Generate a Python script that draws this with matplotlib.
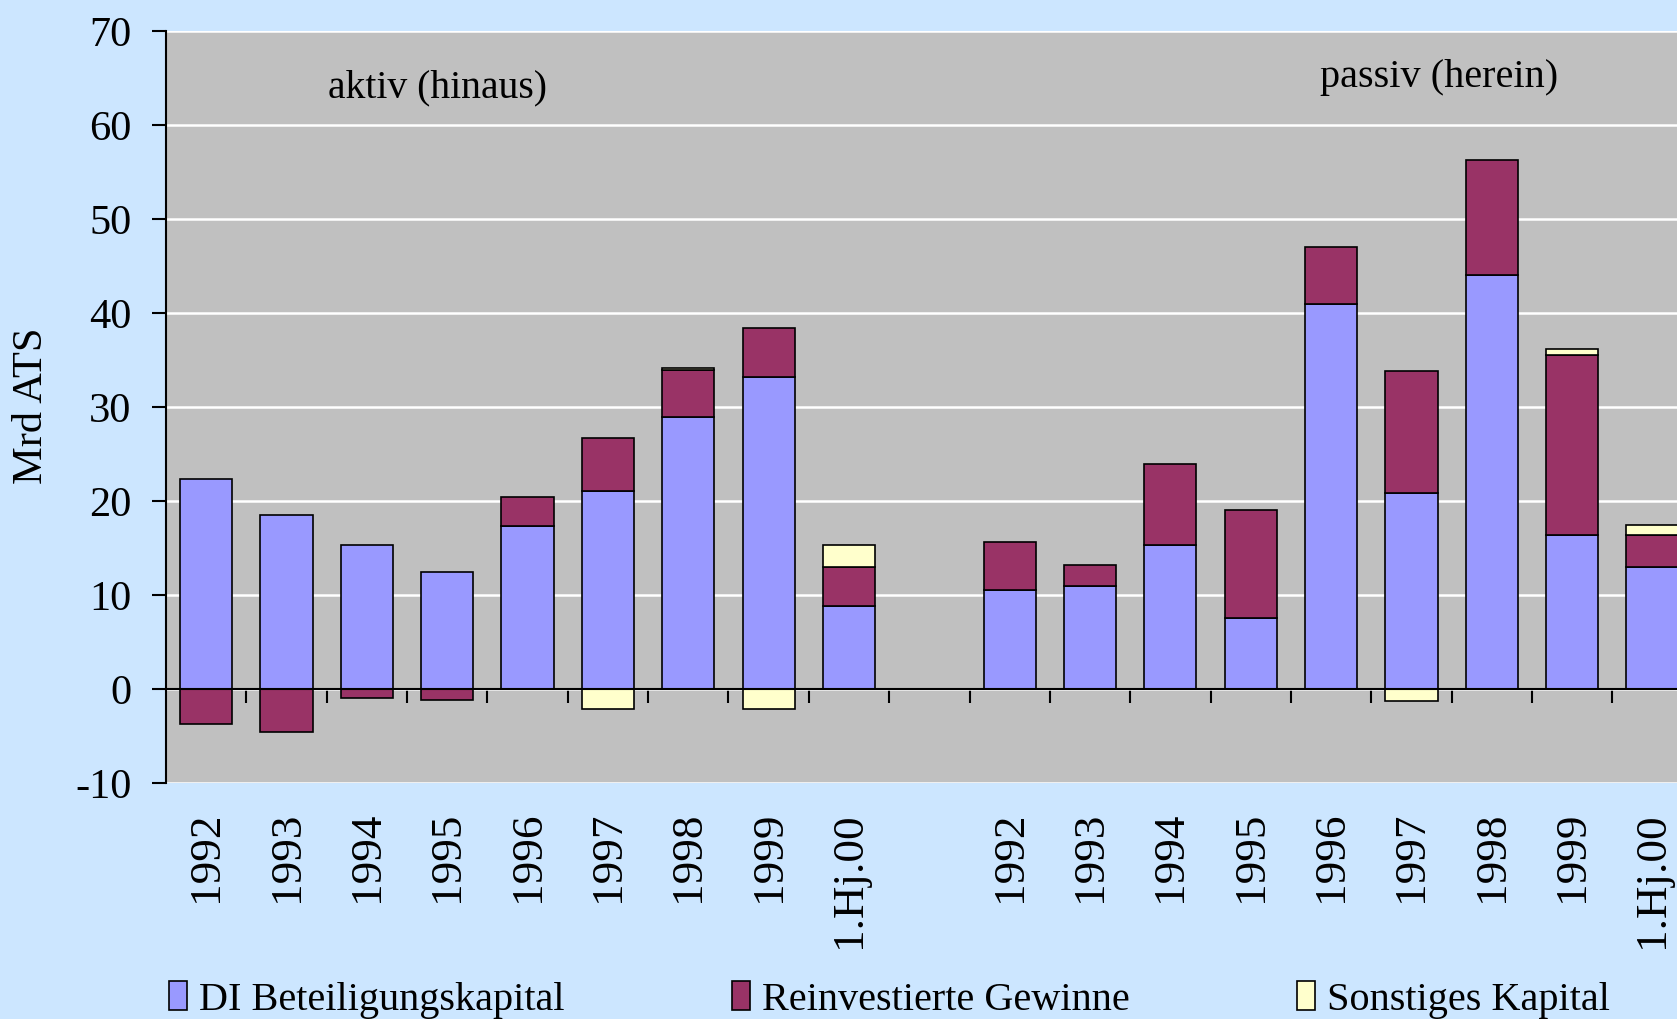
import numpy as np
import matplotlib
matplotlib.use("Agg")
import matplotlib.pyplot as plt
from matplotlib.patches import Patch
import matplotlib.transforms as mtransforms

plt.rcParams['font.family'] = ['Liberation Serif', 'DejaVu Serif']

# ---- data ----
categories = ['1992', '1993', '1994', '1995', '1996', '1997', '1998', '1999', '1.Hj.00',
              '',
              '1992', '1993', '1994', '1995', '1996', '1997', '1998', '1999', '1.Hj.00']
di_kapital = [22.4, 18.5, 15.3, 12.5, 17.4, 21.1, 29.0, 33.2, 8.9,
              0.0,
              10.6, 11.0, 15.3, 7.6, 41.0, 20.9, 44.0, 16.4, 13.0]
reinvestiert = [-3.7, -4.5, -0.9, -1.1, 3.0, 5.6, 4.9, 5.2, 4.1,
                0.0,
                5.1, 2.2, 8.7, 11.5, 6.0, 12.9, 12.3, 19.1, 3.4]
sonstiges = [0.0, 0.0, 0.0, 0.0, 0.0, -2.1, 0.25, -2.1, 2.3,
             0.0,
             0.0, 0.0, 0.0, 0.0, 0.0, -1.3, 0.0, 0.7, 1.05]
series_names = ['DI Beteiligungskapital', 'Reinvestierte Gewinne', 'Sonstiges Kapital']
series_colors = ['#9999FF', '#993366', '#FFFFCC']
y_ticks = [-10, 0, 10, 20, 30, 40, 50, 60, 70]

W, H = 1677, 1019
fig = plt.figure(figsize=(W / 100, H / 100), dpi=100)
fig.patch.set_facecolor('#CCE6FF')

left = 166 / W
bottom = 1 - 783.3 / H
top = 1 - 31 / H
slot = 80.35
ax = fig.add_axes([left, bottom, len(categories) * slot / W, top - bottom])
ax.set_facecolor('#C0C0C0')

x = np.arange(len(categories))
mask = np.array([c != '' for c in categories])
pos_base = np.zeros(len(categories))
neg_base = np.zeros(len(categories))
for vals, color in zip([di_kapital, reinvestiert, sonstiges], series_colors):
    v = np.array(vals, dtype=float)
    b = np.where(v >= 0, pos_base, neg_base)
    sel = mask & (v != 0)
    ax.bar(x[sel], v[sel], bottom=b[sel], width=0.65, color=color,
           edgecolor='black', linewidth=1.2, zorder=3)
    pos_base += np.where(v > 0, v, 0)
    neg_base += np.where(v < 0, v, 0)

ax.set_xlim(-0.5, len(categories) - 0.5)
ax.set_ylim(-10, 70)
ax.set_yticks(y_ticks)
ax.set_yticklabels([str(t) for t in y_ticks])
ax.yaxis.grid(True, color='white', linewidth=1.8, zorder=0)
ax.set_axisbelow(True)

for s in ['top', 'right']:
    ax.spines[s].set_visible(False)
ax.spines['left'].set_linewidth(1.5)
ax.spines['bottom'].set_position(('data', 0))
ax.spines['bottom'].set_linewidth(1.5)
ax.spines['bottom'].set_zorder(4)

ax.set_xticks(np.arange(len(categories) - 1) + 0.5)
ax.set_xticklabels([])
ax.tick_params(axis='x', direction='out', length=10, width=1.5)
ax.tick_params(axis='y', direction='out', length=10, width=1.5, labelsize=30.5, pad=15)

trans = mtransforms.blended_transform_factory(ax.transData, ax.transAxes)
for i, c in enumerate(categories):
    if c:
        ax.text(i, -0.038, c, transform=trans, rotation=90, ha='center', va='top',
                fontsize=32.5)

fig.text(32 / W, 1 - 406 / H, 'Mrd ATS', rotation=90, ha='center', va='center', fontsize=30.5)

fig.text(438 / W, 1 - 88 / H, 'aktiv (hinaus)', ha='center', va='center', fontsize=28.5)
fig.text(1439 / W, 1 - 77 / H, 'passiv (herein)', ha='center', va='center', fontsize=29)

handles = [Patch(facecolor=c, edgecolor='black', linewidth=1.2) for c in series_colors]
leg = fig.legend(handles, series_names, loc='center left', bbox_to_anchor=(169 / W, 1 - 1000 / H),
                 ncol=3, frameon=False, fontsize=29, handlelength=0.45, handleheight=0.7,
                 handletextpad=0.3, columnspacing=4.15, borderaxespad=0, borderpad=0)

fig.savefig('out.png', dpi=100, facecolor=fig.get_facecolor())
